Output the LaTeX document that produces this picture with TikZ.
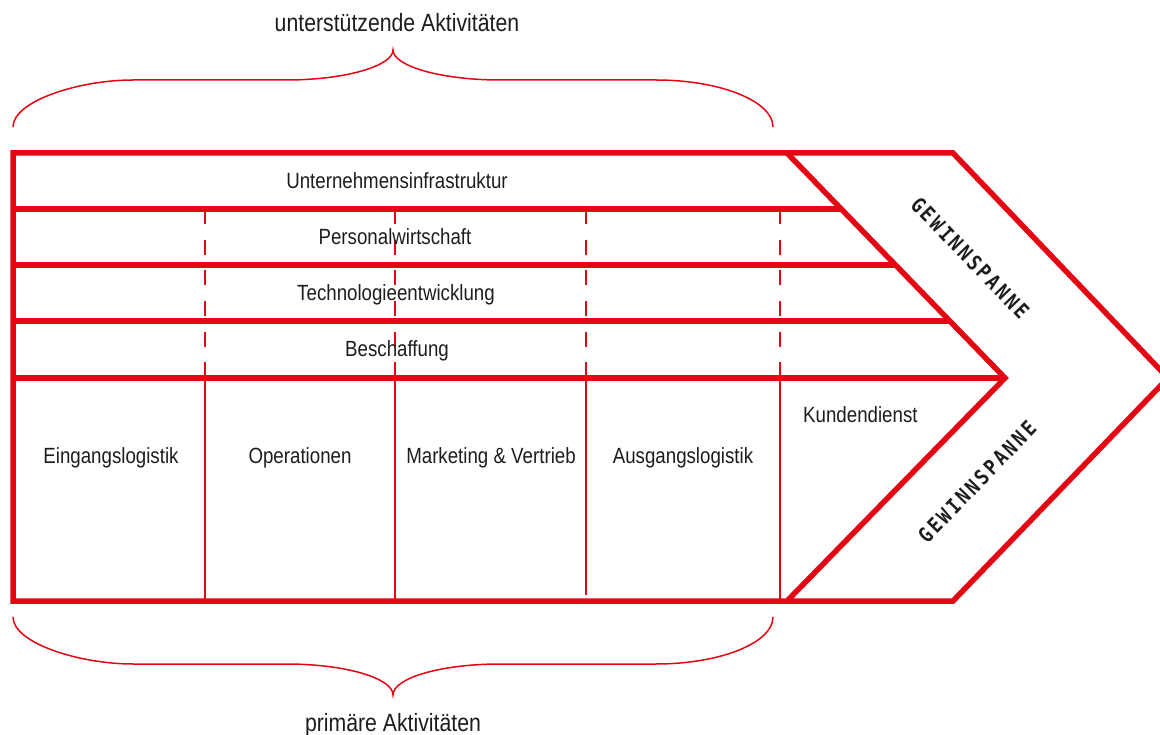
\documentclass[tikz,border=0pt]{standalone}
\usepackage{fontspec}
\setmainfont{Liberation Sans}[FakeStretch=0.85]
\newfontfamily\gwfont{DejaVu Sans Mono}[FakeStretch=0.85,LetterSpace=13]
\definecolor{vcred}{RGB}{227,6,19}
\definecolor{vctext}{RGB}{29,29,27}
\tikzset{
  thickred/.style={draw=vcred, line width=5.5pt, line join=miter, line cap=rect},
  thinred/.style={draw=vcred, line width=1.6pt},
  dashred/.style={draw=vcred, line width=1.6pt, dash pattern=on 15pt off 15.7pt},
  bracered/.style={draw=vcred, line width=1.5pt},
  lbl/.style={text=vctext, font=\fontsize{22}{26}\selectfont, inner sep=0pt, anchor=base},
  biglbl/.style={lbl, font=\fontsize{25}{29}\selectfont},
  gw/.style={text=vctext, font=\gwfont\bfseries\fontsize{21}{23}\selectfont, inner sep=0pt},
}
\begin{document}
\begin{tikzpicture}[x=1pt,y=-1pt]
\useasboundingbox (0,0) rectangle (1160,735);

% key points
\coordinate (tl) at (13,153);
\coordinate (bl) at (13,601);
\coordinate (ot) at (953,153);
\coordinate (ob) at (953,601);
\coordinate (otip) at (1168,378);
\coordinate (it) at (787,153);
\coordinate (ib) at (787,601);
\coordinate (itip) at (1005,378);

% dashed verticals (support activities)
\foreach \x in {205,395,586,780}
  \draw[dashred] (\x,209) -- (\x,378);
% solid verticals (primary activities)
\draw[thinred] (205,378) -- (205,601);
\draw[thinred] (395,378) -- (395,601);
\draw[thinred] (586,378) -- (586,595);
\draw[thinred] (780,378) -- (780,601);

% row lines
\coordinate (r1) at (13,209);  \coordinate (e1) at (841.3,209);
\coordinate (r2) at (13,265);  \coordinate (e2) at (895.5,265);
\coordinate (r3) at (13,321);  \coordinate (e3) at (949.8,321);
\coordinate (r4) at (13,378);
\draw[thickred, line cap=butt] (r1) -- (e1);
\draw[thickred, line cap=butt] (r2) -- (e2);
\draw[thickred, line cap=butt] (r3) -- (e3);
\draw[thickred, line cap=butt] (r4) -- (itip);

% outer frame and inner chevron
\draw[thickred] (tl) -- (ot) -- (otip) -- (ob) -- (bl) -- cycle;
\draw[thickred, line cap=butt] (it) -- (itip) -- (ib);

% braces
\draw[bracered] (13,127) .. controls (13,101) and (79,80) .. (133,80) -- (286,80)
  .. controls (345,80) and (393,66) .. (393,50)
  .. controls (393,66) and (441,80) .. (500,80) -- (656,80)
  .. controls (720,80) and (773,101) .. (773,127);
\draw[bracered] (13,617) .. controls (13,643) and (79,664) .. (133,664) -- (286,664)
  .. controls (345,664) and (393,678) .. (393,695)
  .. controls (393,678) and (441,664) .. (500,664) -- (656,664)
  .. controls (720,664) and (773,643) .. (773,617);

% labels
\node[biglbl] (sup) at (397,32) {unterstützende Aktivitäten};
\node[biglbl] (pri) at (393,731) {primäre Aktivitäten};

\node[lbl] (infra) at (397,189) {Unternehmensinfrastruktur};
\node[lbl] (hr) at (395,245) {Personalwirtschaft};
\node[lbl] (tech) at (396,301) {Technologieentwicklung};
\node[lbl] (proc) at (397,357) {Beschaffung};

\node[lbl] (inlog) at (111,463) {Eingangslogistik};
\node[lbl] (ops) at (300,463) {Operationen};
\node[lbl] (mkt) at (491,463) {Marketing \& Vertrieb};
\node[lbl] (outlog) at (683,463) {Ausgangslogistik};
\node[lbl, anchor=base west] (svc) at (803,423) {Kundendienst};

\node[gw, rotate=-46] (gw1) at (970,258) {GEWINNSPANNE};
\node[gw, rotate=46] (gw2) at (977,482) {GEWINNSPANNE};
\end{tikzpicture}
\end{document}
